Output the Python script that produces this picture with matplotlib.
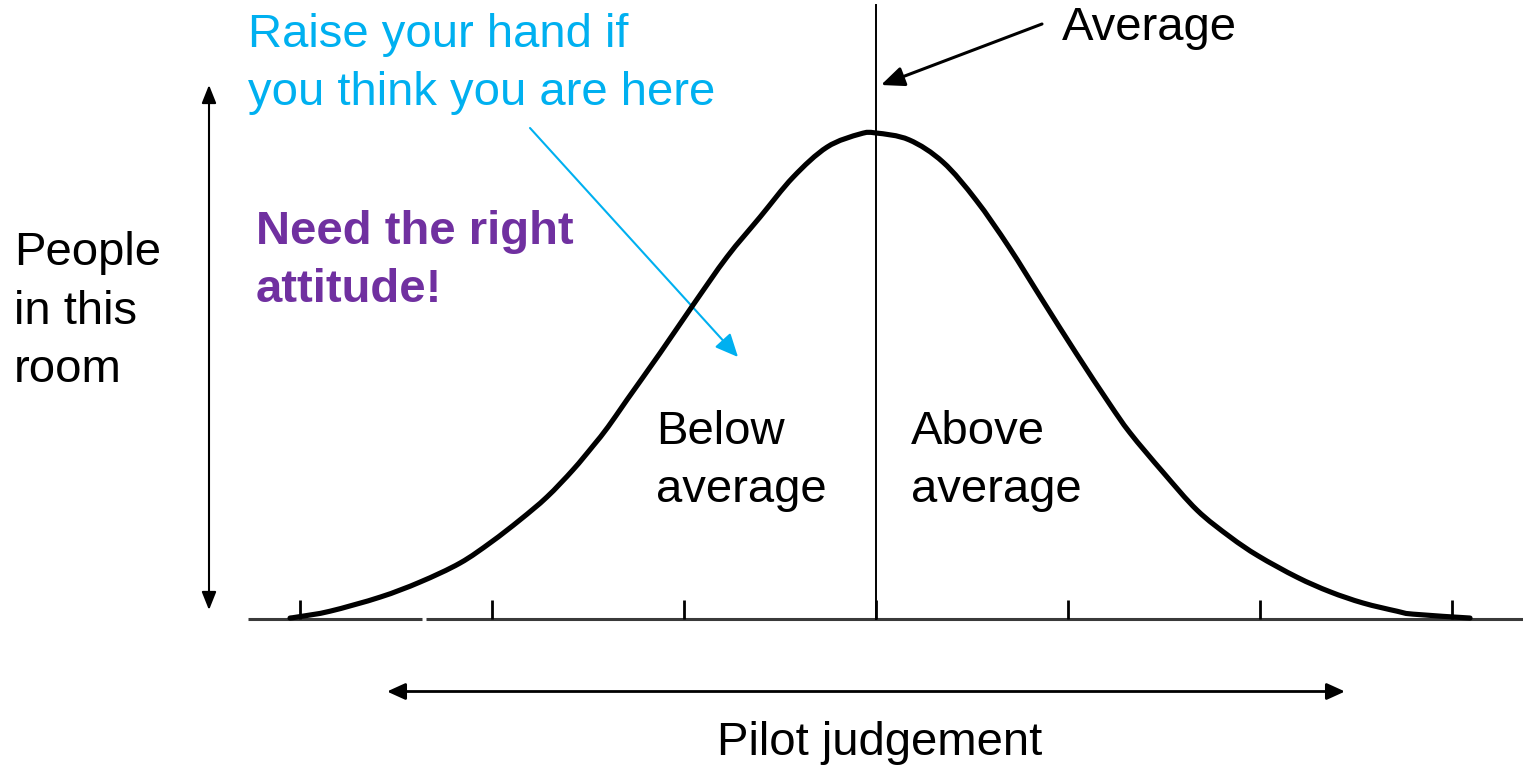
import matplotlib
matplotlib.use("Agg")
import matplotlib.pyplot as plt
from matplotlib.path import Path
from matplotlib.patches import PathPatch

# ---- data ----
# judgement position (tick units, 0 = average) and relative number of people
judgement = [-3.052, -3.000, -2.844, -2.583, -2.375, -2.167, -2.005, -1.854, -1.714,
             -1.578, -1.474, -1.396, -1.297, -1.125, -0.953, -0.776, -0.604, -0.432,
             -0.255, -0.083, 0.000, 0.172, 0.349, 0.521, 0.693, 0.870, 1.042, 1.214,
             1.323, 1.495, 1.672, 1.844, 1.990, 2.193, 2.365, 2.536, 2.714, 2.797, 3.094]
people = [0.002, 0.005, 0.016, 0.045, 0.076, 0.115, 0.158, 0.204, 0.251,
          0.307, 0.356, 0.395, 0.451, 0.547, 0.646, 0.745, 0.827, 0.909,
          0.971, 0.998, 1.000, 0.986, 0.940, 0.862, 0.765, 0.654, 0.547, 0.444,
          0.383, 0.302, 0.224, 0.169, 0.130, 0.086, 0.056, 0.033, 0.016, 0.010, 0.002]
tick_positions = [-3, -2, -1, 0, 1, 2, 3]

raise_text = "Raise your hand if\nyou think you are here"
attitude_text = "Need the right\nattitude!"
ylabel_text = "People\nin this\nroom"
below_text = "Below\naverage"
above_text = "Above\naverage"
average_text = "Average"
xlabel_text = "Pilot judgement"

BLUE = "#00B0F0"
PURPLE = "#7030A0"

W, H = 1523, 767
fig = plt.figure(figsize=(W / 100, H / 100), dpi=100)
ax = fig.add_axes([0, 0, 1, 1])

# pixel layout -> data units (baseline at pixel y 619, peak at 133, ticks 192 px apart, mean at x 876)
X0, XS, Y0, YS = 876.0, 192.0, 619.0, 486.0
def px(x, y):
    return ((x - X0) / XS, (Y0 - y) / YS)

ax.set_xlim(px(0, 0)[0], px(W, 0)[0])
ax.set_ylim(px(0, H)[1], px(0, 0)[1])
ax.axis("off")

FONT = "Liberation Sans"

# baseline (with the small gap seen in the picture)
for xa, xb in [(248, 422), (426, W)]:
    ax.plot([px(xa, 0)[0], px(xb, 0)[0]], [0, 0], color="#3a3a3a", lw=2.2,
            solid_capstyle="butt", zorder=2)

# ticks
tick_top = px(0, 600)[1]
ax.vlines(tick_positions, 0, tick_top, color="black", lw=2.0, zorder=3)

# average line
ax.plot([0, 0], [0, px(0, 5)[1]], color="black", lw=1.4, zorder=3)

# bell curve: smooth Bezier path through the read points
pts = list(zip(judgement, people))
verts = [pts[0]]
codes = [Path.MOVETO]
n = len(pts)
for i in range(n - 1):
    p0 = pts[max(i - 1, 0)]
    p1 = pts[i]
    p2 = pts[i + 1]
    p3 = pts[min(i + 2, n - 1)]
    c1 = (p1[0] + (p2[0] - p0[0]) / 6.0, p1[1] + (p2[1] - p0[1]) / 6.0)
    c2 = (p2[0] - (p3[0] - p1[0]) / 6.0, p2[1] - (p3[1] - p1[1]) / 6.0)
    verts += [c1, c2, p2]
    codes += [Path.CURVE4, Path.CURVE4, Path.CURVE4]
curve = PathPatch(Path(verts, codes), facecolor="none", edgecolor="black", lw=3.7,
                  joinstyle="round", capstyle="round", zorder=4)
ax.add_patch(curve)

# vertical double arrow (people)
ax.annotate("", xy=px(209, 85), xytext=px(209, 610),
            arrowprops=dict(arrowstyle="<|-|>,head_length=0.55,head_width=0.22",
                            lw=1.5, color="black", shrinkA=0, shrinkB=0,
                            mutation_scale=20))
# horizontal double arrow (judgement)
ax.annotate("", xy=px(1345, 691.5), xytext=px(387, 691.5),
            arrowprops=dict(arrowstyle="<|-|>,head_length=0.55,head_width=0.25",
                            lw=2.0, color="black", shrinkA=0, shrinkB=0,
                            mutation_scale=20))
# average arrow
ax.annotate("", xy=px(881, 85), xytext=px(1042, 24),
            arrowprops=dict(arrowstyle="-|>,head_length=0.7,head_width=0.3",
                            lw=2.2, color="black", shrinkA=0, shrinkB=0,
                            mutation_scale=20))
# blue arrow
ax.annotate("", xy=px(738, 357), xytext=px(530, 128),
            arrowprops=dict(arrowstyle="-|>,head_length=0.7,head_width=0.32",
                            lw=1.5, color=BLUE, shrinkA=0, shrinkB=0,
                            mutation_scale=20))

FS = 34
LS = 1.42
def txt(x, y_last_baseline, s, **kw):
    ax.text(*px(x, y_last_baseline), s, family=FONT, fontsize=FS, va="baseline",
            ha="left", linespacing=LS, **kw)

txt(248, 105, raise_text, color=BLUE)
txt(256, 302, attitude_text, color=PURPLE, fontweight="bold")
txt(14, 382, ylabel_text, color="black")
txt(656, 502, below_text, color="black")
txt(911, 502, above_text, color="black")
txt(1062, 40, average_text, color="black")
txt(717, 755, xlabel_text, color="black")

fig.savefig("out.png", dpi=100, facecolor="white")
